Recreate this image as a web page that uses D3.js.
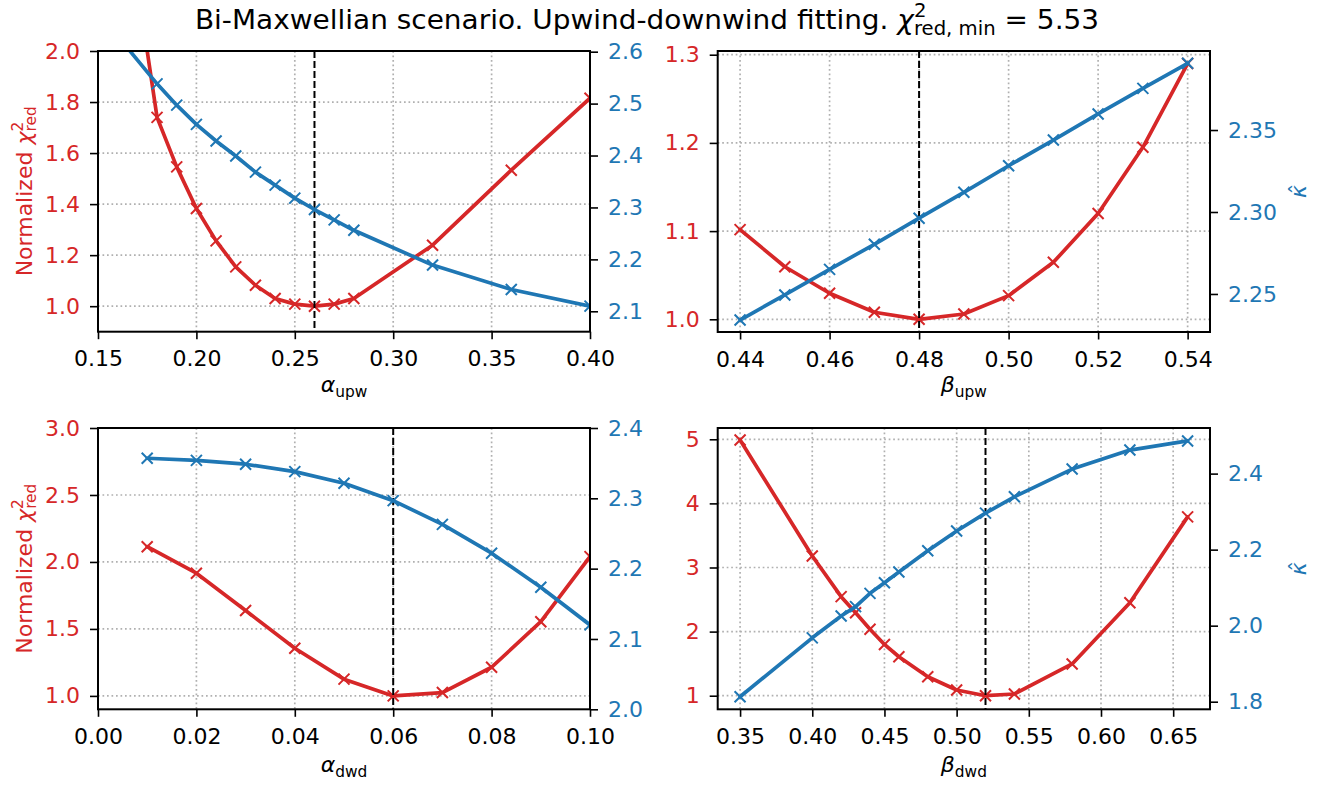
<!DOCTYPE html>
<html><head><meta charset="utf-8">
<script src="https://cdn.jsdelivr.net/npm/d3@7"></script>
<style>body{margin:0;background:#fff} svg text{font-family:"DejaVu Sans",sans-serif}</style>
</head><body>
<svg id="chart" width="1330" height="787"></svg>
<script>
// ---------- DATA ----------
const alphaUpw      = [0.16, 0.18, 0.19, 0.20, 0.21, 0.22, 0.23, 0.24, 0.25, 0.26, 0.27, 0.28, 0.32, 0.36, 0.40];
const chiAlphaUpw   = [2.78, 1.74, 1.546, 1.383, 1.256, 1.154, 1.082, 1.030, 1.008, 1.000, 1.008, 1.030, 1.239, 1.533, 1.815];
const kapAlphaUpw   = [2.63, 2.538, 2.497, 2.460, 2.428, 2.399, 2.368, 2.343, 2.318, 2.296, 2.276, 2.256, 2.189, 2.142, 2.110];

const betaUpw       = [0.44, 0.45, 0.46, 0.47, 0.48, 0.49, 0.50, 0.51, 0.52, 0.53, 0.54];
const chiBetaUpw    = [1.1017, 1.0596, 1.0295, 1.008, 1.000, 1.006, 1.0268, 1.0646, 1.120, 1.195, 1.290];
const kapBetaUpw    = [2.2341, 2.2494, 2.265, 2.2803, 2.2962, 2.312, 2.3282, 2.3439, 2.3598, 2.3754, 2.3907];

const alphaDwd      = [0.01, 0.02, 0.03, 0.04, 0.05, 0.06, 0.07, 0.08, 0.09, 0.10];
const chiAlphaDwd   = [2.114, 1.916, 1.637, 1.356, 1.125, 1.000, 1.025, 1.214, 1.554, 2.040];
const kapAlphaDwd   = [2.357, 2.354, 2.3485, 2.338, 2.3215, 2.2967, 2.263, 2.222, 2.1735, 2.120];

const betaDwd       = [0.35, 0.40, 0.42, 0.43, 0.44, 0.45, 0.46, 0.48, 0.50, 0.52, 0.54, 0.58, 0.62, 0.66];
const chiBetaDwd    = [4.99, 3.18, 2.545, 2.295, 2.036, 1.80, 1.608, 1.296, 1.089, 1.000, 1.027, 1.495, 2.45, 3.79];
const kapBetaDwd    = [1.813, 1.968, 2.0255, 2.05, 2.085, 2.113, 2.141, 2.197, 2.249, 2.296, 2.339, 2.412, 2.462, 2.486];

const bestValues    = [0.26, 0.48, 0.06, 0.52];

// tick labels
const xTicksAlphaUpw = [0.15, 0.20, 0.25, 0.30, 0.35, 0.40];
const yTicksAlphaUpw = [1.0, 1.2, 1.4, 1.6, 1.8, 2.0];
const rTicksAlphaUpw = [2.1, 2.2, 2.3, 2.4, 2.5, 2.6];
const xTicksBetaUpw  = [0.44, 0.46, 0.48, 0.50, 0.52, 0.54];
const yTicksBetaUpw  = [1.0, 1.1, 1.2, 1.3];
const rTicksBetaUpw  = [2.25, 2.30, 2.35];
const xTicksAlphaDwd = [0.00, 0.02, 0.04, 0.06, 0.08, 0.10];
const yTicksAlphaDwd = [1.0, 1.5, 2.0, 2.5, 3.0];
const rTicksAlphaDwd = [2.0, 2.1, 2.2, 2.3, 2.4];
const xTicksBetaDwd  = [0.35, 0.40, 0.45, 0.50, 0.55, 0.60, 0.65];
const yTicksBetaDwd  = [1, 2, 3, 4, 5];
const rTicksBetaDwd  = [1.8, 2.0, 2.2, 2.4];

// ---------- LAYOUT ----------
const RED = "#d62728", BLUE = "#1f77b4";
const svg = d3.select("#chart");
const FS = 22;

const panels = [
  {x:alphaUpw, c:chiAlphaUpw, k:kapAlphaUpw, best:bestValues[0], box:[98,590,51,331.7],
   xd:[0.15,0.40], yd:[0.9,2.0], rd:[2.0607,2.6013],
   xt:xTicksAlphaUpw, yt:yTicksAlphaUpw, rt:rTicksAlphaUpw, xf:".2f", yf:".1f", rf:".1f",
   sym:"α", sub:"upw", leftLabel:true, rightLabel:false, xlabY:392},
  {x:betaUpw, c:chiBetaUpw, k:kapBetaUpw, best:bestValues[1], box:[717.7,1210,51,332],
   xd:[0.435,0.545], yd:[0.9856,1.3042], rd:[2.2268,2.3982],
   xt:xTicksBetaUpw, yt:yTicksBetaUpw, rt:rTicksBetaUpw, xf:".2f", yf:".1f", rf:".2f",
   sym:"β", sub:"upw", leftLabel:false, rightLabel:true, xlabY:392},
  {x:alphaDwd, c:chiAlphaDwd, k:kapAlphaDwd, best:bestValues[2], box:[98,590,428,709.3],
   xd:[0,0.1], yd:[0.9,3.0], rd:[2.0,2.4],
   xt:xTicksAlphaDwd, yt:yTicksAlphaDwd, rt:rTicksAlphaDwd, xf:".2f", yf:".1f", rf:".1f",
   sym:"α", sub:"dwd", leftLabel:true, rightLabel:false, xlabY:772},
  {x:betaDwd, c:chiBetaDwd, k:kapBetaDwd, best:bestValues[3], box:[717.7,1210,428,709.3],
   xd:[0.3345,0.6755], yd:[0.788,5.176], rd:[1.780,2.520],
   xt:xTicksBetaDwd, yt:yTicksBetaDwd, rt:rTicksBetaDwd, xf:".2f", yf:"d", rf:".1f",
   sym:"β", sub:"dwd", leftLabel:false, rightLabel:true, xlabY:772}
];

function styleAxis(g, color){
  g.select(".domain").remove();
  g.selectAll(".tick line").attr("stroke","#000").attr("stroke-width",1.6);
  g.selectAll(".tick text").attr("fill",color).attr("font-size",FS)
    .attr("font-family","DejaVu Sans, sans-serif");
  g.attr("font-family",null).attr("font-size",null);
}

function markers(g, xs, ys, xS, yS, color){
  const pts = xs.map((v,i)=>[xS(v), yS(ys[i])]);
  const s = 5.5;
  g.selectAll(null).data(pts).join("path")
    .attr("d", d=>`M${d[0]-s},${d[1]-s}L${d[0]+s},${d[1]+s}M${d[0]-s},${d[1]+s}L${d[0]+s},${d[1]-s}`)
    .attr("stroke", color).attr("stroke-width", 2).attr("fill","none");
}

panels.forEach((p,i)=>{
  const [x0,x1,y0,y1] = p.box;
  const xS = d3.scaleLinear().domain(p.xd).range([x0,x1]);
  const yS = d3.scaleLinear().domain(p.yd).range([y1,y0]);
  const rS = d3.scaleLinear().domain(p.rd).range([y1,y0]);
  const g = svg.append("g");
  const cid = "clip"+i;
  svg.append("clipPath").attr("id",cid).append("rect")
    .attr("x",x0).attr("y",y0).attr("width",x1-x0).attr("height",y1-y0);

  // grid
  const grid = g.append("g").attr("stroke","#b0b0b0").attr("stroke-width",1.7)
    .attr("stroke-dasharray","1.7,2.8").attr("clip-path",`url(#${cid})`);
  p.xt.forEach(t=>grid.append("line").attr("x1",xS(t)).attr("x2",xS(t)).attr("y1",y0).attr("y2",y1));
  p.yt.forEach(t=>grid.append("line").attr("x1",x0).attr("x2",x1).attr("y1",yS(t)).attr("y2",yS(t)));

  const plot = g.append("g").attr("clip-path",`url(#${cid})`);
  const lineC = d3.line().x((d,j)=>xS(p.x[j])).y(d=>yS(d));
  plot.append("path").attr("d",lineC(p.c)).attr("fill","none").attr("stroke",RED)
    .attr("stroke-width",3.7).attr("stroke-linejoin","round").attr("stroke-linecap","round");
  markers(plot.append("g"), p.x, p.c, xS, yS, RED);

  // best-value line
  plot.append("line").attr("x1",xS(p.best)).attr("x2",xS(p.best)).attr("y1",y0).attr("y2",y1)
    .attr("stroke","#000").attr("stroke-width",2).attr("stroke-dasharray","7,3");

  const lineK = d3.line().x((d,j)=>xS(p.x[j])).y(d=>rS(d));
  const plot2 = g.append("g").attr("clip-path",`url(#${cid})`);
  plot2.append("path").attr("d",lineK(p.k)).attr("fill","none").attr("stroke",BLUE)
    .attr("stroke-width",3.7).attr("stroke-linejoin","round").attr("stroke-linecap","round");
  markers(plot2.append("g"), p.x, p.k, xS, rS, BLUE);

  // frame
  g.append("rect").attr("x",x0).attr("y",y0).attr("width",x1-x0).attr("height",y1-y0)
    .attr("fill","none").attr("stroke","#000").attr("stroke-width",2);

  // axes
  const ax = g.append("g").attr("transform",`translate(0,${y1})`)
    .call(d3.axisBottom(xS).tickValues(p.xt).tickFormat(d3.format(p.xf)).tickSize(7.5).tickPadding(11.5));
  styleAxis(ax,"#000");
  const ayl = g.append("g").attr("transform",`translate(${x0},0)`)
    .call(d3.axisLeft(yS).tickValues(p.yt).tickFormat(d3.format(p.yf)).tickSize(8).tickPadding(10));
  styleAxis(ayl,RED);
  const ayr = g.append("g").attr("transform",`translate(${x1},0)`)
    .call(d3.axisRight(rS).tickValues(p.rt).tickFormat(d3.format(p.rf)).tickSize(8).tickPadding(10));
  styleAxis(ayr,BLUE);

  // x label
  const xl = g.append("text").attr("x",(x0+x1)/2).attr("y",p.xlabY).attr("text-anchor","middle")
    .attr("font-size",FS).attr("fill","#000");
  xl.append("tspan").attr("font-style","italic").text(p.sym);
  xl.append("tspan").attr("font-size",FS*0.7).attr("dy",5).text(p.sub);

  if(p.leftLabel){
    const yl = g.append("text").attr("transform",`translate(32,${(y0+y1)/2}) rotate(-90)`)
      .attr("text-anchor","middle").attr("font-size",FS).attr("fill",RED);
    yl.append("tspan").text("Normalized ");
    yl.append("tspan").attr("font-style","italic").text("χ");
    yl.append("tspan").attr("font-size",FS*0.7).attr("dy",-9).text("2");
    yl.append("tspan").attr("font-size",FS*0.7).attr("dx",-FS*0.7*0.636).attr("dy",13).text("red");
  }
  if(p.rightLabel){
    const rg = g.append("g").attr("transform",`translate(1306,${(y0+y1)/2}) rotate(-90)`);
    rg.append("text").attr("text-anchor","middle").attr("font-size",FS).attr("fill",BLUE)
      .attr("font-style","italic").text("κ");
    rg.append("text").attr("x",2.5).attr("y",-1).attr("text-anchor","middle").attr("font-size",FS)
      .attr("fill",BLUE).text("\u02C6");
  }
});

// title
const title = svg.append("text").attr("text-anchor","middle")
  .attr("transform","translate(647,28.5) scale(1.035,1)")
  .attr("font-size",27).attr("fill","#000");
title.append("tspan").text("Bi-Maxwellian scenario. Upwind-downwind fitting. ");
title.append("tspan").attr("font-style","italic").text("χ");
title.append("tspan").attr("font-size",19).attr("dy",-12).text("2");
title.append("tspan").attr("font-size",19).attr("dx",-19*0.636).attr("dy",18).text("red, min");
title.append("tspan").attr("dy",-6).text(" = 5.53");
</script>
</body></html>
